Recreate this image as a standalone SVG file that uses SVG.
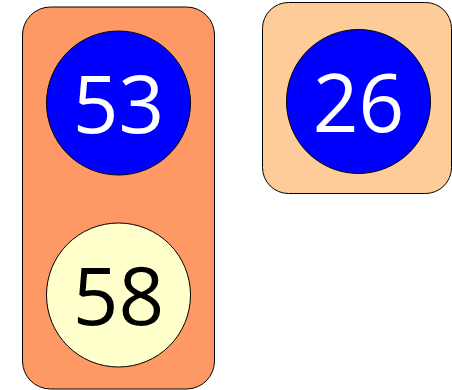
<svg xmlns="http://www.w3.org/2000/svg" width="452" height="390" viewBox="0 0 452 390">
<style>
.c{stroke:#000;stroke-width:1}
.t{font-family:"Open Sans","DejaVu Sans",sans-serif;font-size:80px;text-anchor:middle}
</style>
<g id="cluster1"><rect x="22.5" y="7" width="192" height="382" rx="28" fill="#fe9966" class="c"/></g>
<g id="cluster2"><rect x="262.5" y="2.5" width="189" height="191" rx="26" fill="#fecc99" class="c"/></g>
<g id="n53"><circle cx="118.5" cy="103" r="72" fill="#0000ff" class="c"/><text x="118.5" y="133" class="t" fill="#fff">53</text></g>
<g id="n58"><circle cx="118.5" cy="295" r="72" fill="#ffffcc" class="c"/><text x="118.5" y="325" class="t" fill="#000">58</text></g>
<g id="n26"><circle cx="358.5" cy="101.5" r="72" fill="#0000ff" class="c"/><text x="358.5" y="131.5" class="t" fill="#fff">26</text></g>
<g id="connectors"/>
</svg>
